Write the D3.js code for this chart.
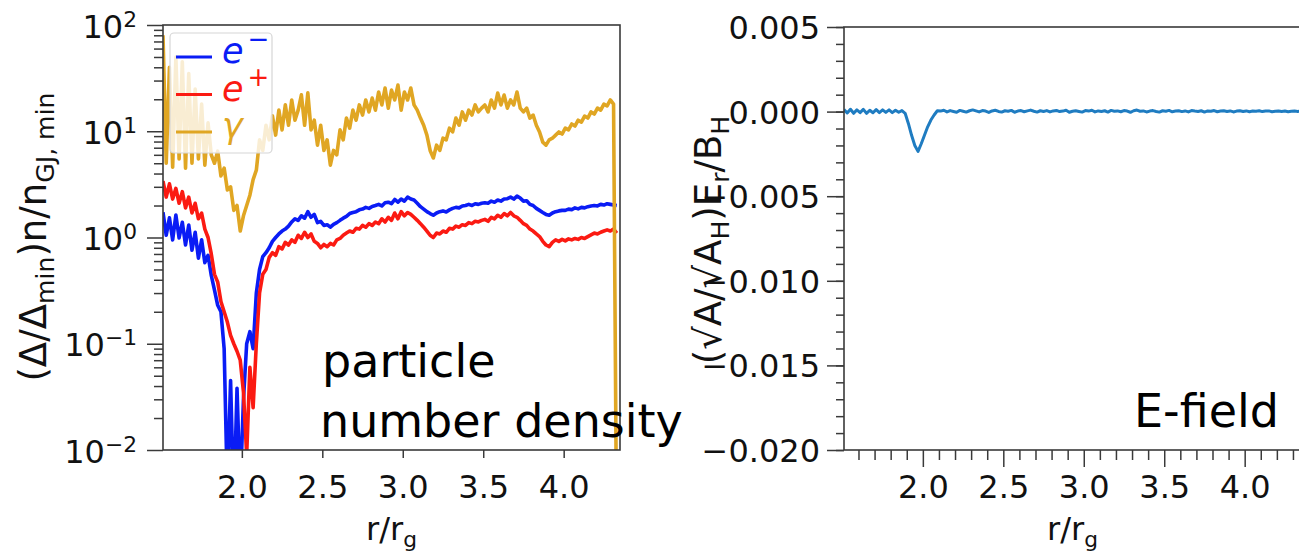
<!DOCTYPE html>
<html lang="en">
<head>
<meta charset="UTF-8">
<title>Particle number density and E-field</title>
<style>
    html, body {
        margin: 0;
        padding: 0;
        background-color: #fff;
    }
    svg {
        display: block;
        font-family: 'DejaVu Sans', sans-serif;
    }
</style>
</head>
<body>
<div id="chart"></div>
<script src="https://d3js.org/d3.v7.min.js"></script>
<script>
    // sampling grid in r/r_g shared by every series
    const rStart = 1.51;
    const rStep = 0.02;

    // (Δ/Δmin) n / nGJ,min  for e-, e+, gamma
    const electron = [
        1.73, 1.05, 1.53, 0.95, 1.63, 0.99, 1.39, 0.85, 1.31, 0.76,
        1.12, 0.64, 0.95, 0.58, 0.68, 0.44, 0.32, 0.23, 0.2, 0.09,
        0.004, 0.045, 0.003, 0.038, 0.004, 0.03, 0.1, 0.13, 0.09, 0.3,
        0.5, 0.66, 0.72, 0.8, 0.92, 1.0, 1.08, 1.15, 1.2, 1.28,
        1.4, 1.5, 1.45, 1.6, 1.52, 1.75, 1.55, 1.65, 1.38, 1.42,
        1.3, 1.32, 1.25, 1.33, 1.38, 1.45, 1.52, 1.58, 1.68, 1.72,
        1.75, 1.82, 1.85, 1.92, 1.88, 1.96, 2.0, 2.05, 1.98, 2.12,
        2.15, 2.08, 2.28, 2.15, 2.3, 2.2, 2.4, 2.3, 2.25, 2.1,
        1.95, 1.85, 1.75, 1.68, 1.62, 1.7, 1.75, 1.78, 1.74, 1.82,
        1.88, 1.92, 1.9, 1.98, 2.0, 2.05, 2.0, 2.08, 2.05, 2.1,
        2.12, 2.1, 2.2, 2.15, 2.25, 2.2, 2.3, 2.32, 2.4, 2.3,
        2.45, 2.35, 2.2, 2.22, 2.05, 2.0, 1.88, 1.8, 1.72, 1.65,
        1.62, 1.7, 1.75, 1.78, 1.8, 1.8, 1.85, 1.83, 1.9, 1.86,
        1.92, 1.9, 1.95, 1.98, 2.0, 1.98, 2.05, 2.02, 2.08, 2.05,
        2.02, 2.0
    ];
    const positron = [
        3.4, 2.4, 3.2, 2.3, 2.9, 2.1, 2.7, 1.9, 2.4, 1.7,
        2.1, 1.5, 1.7, 1.2, 1.0, 0.7, 0.45, 0.38, 0.25, 0.2,
        0.16, 0.12, 0.1, 0.085, 0.07, 0.035, 0.009, 0.06, 0.025, 0.1,
        0.3, 0.45, 0.5, 0.65, 0.72, 0.68, 0.82, 0.78, 0.9, 0.85,
        0.95, 0.9, 1.05, 0.98, 1.12, 1.0, 1.08, 0.92, 0.88, 0.8,
        0.86, 0.82, 0.88, 0.85, 0.95, 0.98, 1.05, 1.1, 1.15, 1.12,
        1.22, 1.2, 1.3, 1.25, 1.35, 1.3, 1.4, 1.35, 1.5, 1.4,
        1.55, 1.45, 1.7, 1.5, 1.75, 1.6, 1.72, 1.65, 1.55, 1.45,
        1.35, 1.25, 1.15, 1.05, 1.0, 1.1, 1.08, 1.15, 1.12, 1.22,
        1.2, 1.28, 1.25, 1.32, 1.3, 1.38, 1.35, 1.42, 1.4, 1.45,
        1.48, 1.42, 1.55, 1.5, 1.62, 1.55, 1.68, 1.6, 1.72, 1.6,
        1.55, 1.45, 1.35, 1.3, 1.2, 1.15, 1.08, 1.02, 0.92, 0.85,
        0.82, 0.9, 0.95, 0.92, 0.96, 0.93, 0.97, 0.95, 0.98, 0.96,
        1.0, 0.98, 1.02, 1.06, 1.1, 1.08, 1.12, 1.15, 1.18, 1.15,
        1.2, 1.1
    ];
    const photon = [
        80, 5.0, 40, 4.6, 50, 5.5, 45, 4.5, 35, 5.0,
        25, 5.5, 18, 4.8, 12, 6.0, 5.0, 6.5, 3.8, 4.5,
        2.8, 3.0, 1.8, 2.0, 1.15, 1.6, 2.0, 2.5, 3.5, 4.3,
        8.3, 6.6, 11.4, 8.3, 14, 9.2, 15.8, 10.3, 17.7, 11.4,
        19.7, 12.7, 15.8, 22, 11.4, 23, 10.3, 12.7, 7.4, 11.4,
        6.6, 8.3, 4.8, 6.6, 6.0, 10.3, 8.3, 13.3, 10.7, 15.8,
        12.7, 17.7, 14.2, 19.7, 15.2, 20.5, 15.8, 23.4, 17.7, 25.5,
        16.5, 24.4, 19.7, 27.2, 15.8, 23.4, 19.7, 25.5, 17.7, 15.8,
        13.3, 11.4, 9.2, 6.6, 5.6, 7.4, 6.6, 8.6, 8.3, 10.7,
        9.85, 13.3, 11.4, 15.2, 12.7, 15.8, 14.2, 17.7, 15.2, 16.5,
        17.7, 15.2, 19.7, 16.5, 22.9, 17.7, 21.9, 16.5, 19.7, 17.7,
        23.4, 16.5, 15.2, 16.5, 13.3, 14.2, 11.4, 9.85, 7.9, 7.4,
        8.3, 8.6, 9.2, 9.85, 9.4, 10.7, 10.3, 11.7, 11.2, 12.7,
        12.2, 13.9, 13.3, 15.2, 14.5, 16.5, 15.8, 18.0, 17.3, 19.7,
        18.0, 0.001
    ];

    // (√A/√AH) Er / BH
    const eField = [
        0.00012, -0.00008, 0.00014, -0.0001, 0.0001, -0.00006, 0.00013, -0.0001, 0.00008, -0.00007,
        0.00012, -0.00006, 0.0001, -0.00005, 0.0001, -0.00006, 0.00008, -0.00004, 0.00006,
        -0.0001, -0.0007, -0.0014, -0.002, -0.00235, -0.0019, -0.0014, -0.0009, -0.0005, -0.0002, 0.00005,
        0.00003, 0.00008, -0.00002, 0.00006, 0.00001, -0.00004, 0.00007, 0.00002, -0.00003, 0.00005,
        0.0001, 0.00004, -0.00002, 0.00006, 0.00003, -0.00005, 0.00004, 0.00008, 0.00001, -0.00003,
        0.00005, 0.00002, 0.00007, -0.00004, 0.00003, 0.00006, -0.00001, 0.00004, 0.00009, 0.00002,
        -0.00003, 0.00005, 0.00001, 0.00006, -0.00002, 0.00004, 0.00007, 0.0, 0.00003, 0.00008,
        -0.00004, 0.00002, 0.00005, 0.00001, -0.00003, 0.00006, 0.00003, 0.00008, -0.00002, 0.00004,
        0.00001, 0.00005, -0.00003, 0.00007, 0.00002, 0.00004, -0.00001, 0.00006, 0.00003, -0.00004,
        0.00005, 0.00009, 0.00002, 0.00004, -0.00002, 0.00003, 0.00006, 0.00001, -0.00003, 0.00005,
        0.00002, 0.00007, -0.00001, 0.00003, 0.00005, 0.0, 0.00004, -0.00002, 0.00006, 0.00003,
        0.00001, 0.00005, -0.00003, 0.00004, 0.00002, 0.00006, -0.00001, 0.00003, 0.00005, 0.00001,
        0.00004, -0.00002, 0.00003, 0.00005, 0.00001, 0.00004, -0.00001, 0.00003, 0.00002, 0.00005,
        0.0, 0.00003, 0.00004, -0.00001, 0.00002, 0.00004, 0.00001, 0.00003, -0.00001, 0.00002,
        0.00003, 0.00001, 0.00002
    ];

    const rTicks = [2.0, 2.5, 3.0, 3.5, 4.0];
    const rTickLabels = ["2.0", "2.5", "3.0", "3.5", "4.0"];
    const densityTicks = [0.01, 0.1, 1, 10, 100];
    const densityExponents = ["\u22122", "\u22121", "0", "1", "2"];
    const fieldTicks = [-0.02, -0.015, -0.01, -0.005, 0, 0.005];
    const fieldTickLabels = ["\u22120.020", "\u22120.015", "\u22120.010", "\u22120.005", "0.000", "0.005"];
    const legendNames = ["e", "e", "\u03b3"];
    const legendSups = ["\u2212", "+", ""];
    const legendColors = ["#0a1cf5", "#fb1a12", "#e0a623"];

    const width = 1299, height = 552;
    const axisColor = "#3a3a3a";
    const tickFont = 32;

    const svg = d3.select("#chart")
        .append("svg")
        .attr("width", width)
        .attr("height", height);

    svg.append("rect").attr("width", width).attr("height", height).attr("fill", "#fff");

    // helper: plain / sub / sup pieces inside one text element
    function addRich(textSel, parts, size, dy0 = 0) {
        let shift = 0;
        parts.forEach(([t, kind], j) => {
            const target = kind === "sub" ? size * 0.22 : kind === "sup" ? -size * 0.34 : 0;
            textSel.append("tspan")
                .attr("dy", target - shift + (j === 0 ? dy0 : 0))
                .attr("font-size", kind ? size * 0.68 : size)
                .text(t);
            shift = target;
        });
    }

    function styleAxis(g) {
        g.attr("font-size", null).attr("font-family", null);
        g.select(".domain").remove();
        g.selectAll(".tick line").attr("stroke", axisColor).attr("stroke-width", 1.5);
        g.selectAll(".tick text").attr("fill", "#111").attr("font-size", tickFont);
    }

    // ---------------- LEFT PANEL: particle number density ----------------
    const xL = d3.scaleLinear().domain([1.51, 4.35]).range([163, 620]);
    const yL = d3.scaleLog().domain([0.01, 100]).range([450, 25]);

    svg.append("clipPath").attr("id", "clipL")
        .append("rect").attr("x", 163).attr("y", 25).attr("width", 457).attr("height", 425);

    const lineL = d3.line()
        .x((d, i) => xL(rStart + i * rStep))
        .y(d => yL(d));

    const plotL = svg.append("g").attr("clip-path", "url(#clipL)");
    [electron, positron, photon].forEach((series, k) => {
        plotL.append("path")
            .datum(series)
            .attr("d", lineL)
            .attr("fill", "none")
            .attr("stroke", legendColors[k])
            .attr("stroke-width", 3.6)
            .attr("stroke-linejoin", "round");
    });

    // x axis
    svg.append("g")
        .attr("transform", "translate(0,450)")
        .call(d3.axisBottom(xL).tickValues(rTicks).tickFormat((d, i) => rTickLabels[i]).tickSize(8).tickPadding(17))
        .call(styleAxis);

    // y axis, minor ticks
    const logMinor = [];
    [0.01, 0.1, 1, 10].forEach(dec => d3.range(2, 10).forEach(m => logMinor.push(dec * m)));
    svg.append("g")
        .attr("transform", "translate(163,0)")
        .call(d3.axisLeft(yL).tickValues(logMinor).tickFormat("").tickSize(9))
        .call(styleAxis);

    // y axis, decades
    svg.append("g")
        .attr("transform", "translate(163,0)")
        .call(d3.axisLeft(yL).tickValues(densityTicks).tickFormat("").tickSize(16).tickPadding(10))
        .call(styleAxis)
        .selectAll(".tick text")
        .attr("dy", null)
        .each(function (d, i) {
            addRich(d3.select(this), [["10", null], [densityExponents[i], "sup"]], tickFont, 12);
        });

    svg.append("rect")
        .attr("x", 163).attr("y", 25).attr("width", 457).attr("height", 425)
        .attr("fill", "none").attr("stroke", axisColor).attr("stroke-width", 1.6);

    // legend
    const legend = svg.append("g").attr("id", "legend");
    legend.append("rect")
        .attr("x", 170).attr("y", 33).attr("width", 102).attr("height", 120).attr("rx", 4)
        .attr("fill", "#fff").attr("fill-opacity", 0.8)
        .attr("stroke", "#d6d6d6").attr("stroke-width", 1.2);
    legendNames.forEach((name, k) => {
        const ly = 57 + k * 37.5;
        legend.append("line")
            .attr("x1", 176).attr("x2", 212).attr("y1", ly).attr("y2", ly)
            .attr("stroke", legendColors[k]).attr("stroke-width", 3.2);
        const t = legend.append("text")
            .attr("x", 222).attr("y", ly + 6)
            .attr("fill", legendColors[k])
            .attr("font-size", 35);
        t.append("tspan").attr("font-style", "italic").text(name);
        if (legendSups[k]) {
            t.append("tspan").attr("dy", -15).attr("dx", 4).attr("font-size", 26).text(legendSups[k]);
        }
    });

    // axis labels
    const xlabL = svg.append("text").attr("x", 391.5).attr("y", 540)
        .attr("text-anchor", "middle").attr("fill", "#111");
    addRich(xlabL, [["r/r", null], ["g", "sub"]], 32);

    const ylabL = svg.append("text")
        .attr("transform", "translate(46,237) rotate(-90)")
        .attr("text-anchor", "middle").attr("fill", "#111");
    addRich(ylabL, [["(\u0394/\u0394", null], ["min", "sub"], [")n/n", null], ["GJ, min", "sub"]], 37);

    // ---------------- RIGHT PANEL: E-field ----------------
    const xR = d3.scaleLinear().domain([1.51, 4.35]).range([844, 1301]);
    const yR = d3.scaleLinear().domain([-0.02, 0.005]).range([450, 27]);

    svg.append("clipPath").attr("id", "clipR")
        .append("rect").attr("x", 844).attr("y", 27).attr("width", 457).attr("height", 423);

    const lineR = d3.line()
        .x((d, i) => xR(rStart + i * rStep))
        .y(d => yR(d));

    svg.append("g").attr("clip-path", "url(#clipR)")
        .append("path")
        .datum(eField)
        .attr("d", lineR)
        .attr("fill", "none")
        .attr("stroke", "#1f7cc1")
        .attr("stroke-width", 3)
        .attr("stroke-linejoin", "round");

    const rMinor = d3.range(16, 44).map(v => v / 10).filter(v => v % 0.5 !== 0);
    svg.append("g")
        .attr("transform", "translate(0,450)")
        .call(d3.axisBottom(xR).tickValues(rMinor).tickFormat("").tickSize(10))
        .call(styleAxis);
    svg.append("g")
        .attr("transform", "translate(0,450)")
        .call(d3.axisBottom(xR).tickValues(rTicks).tickFormat((d, i) => rTickLabels[i]).tickSize(17).tickPadding(8))
        .call(styleAxis);

    const fieldMinor = d3.range(-20, 6).map(v => v / 1000);
    svg.append("g")
        .attr("transform", "translate(844,0)")
        .call(d3.axisLeft(yR).tickValues(fieldMinor).tickFormat("").tickSize(8))
        .call(styleAxis);
    svg.append("g")
        .attr("transform", "translate(844,0)")
        .call(d3.axisLeft(yR).tickValues(fieldTicks).tickFormat((d, i) => fieldTickLabels[i]).tickSize(17).tickPadding(7))
        .call(styleAxis)
        .selectAll(".tick text").attr("dy", "0.36em");

    svg.append("rect")
        .attr("x", 844).attr("y", 27).attr("width", 457).attr("height", 423)
        .attr("fill", "none").attr("stroke", axisColor).attr("stroke-width", 1.6);

    const xlabR = svg.append("text").attr("x", 1072.5).attr("y", 540)
        .attr("text-anchor", "middle").attr("fill", "#111");
    addRich(xlabR, [["r/r", null], ["g", "sub"]], 32);

    const ylabR = svg.append("text")
        .attr("transform", "translate(721,240) rotate(-90)")
        .attr("text-anchor", "middle").attr("fill", "#111");
    addRich(ylabR, [["(\u221aA/\u221aA", null], ["H", "sub"], [")E", null], ["r", "sub"], ["/B", null], ["H", "sub"]], 37);

    // ---------------- annotations ----------------
    svg.append("text").attr("x", 322).attr("y", 377).attr("font-size", 46).attr("fill", "#000").text("particle");
    svg.append("text").attr("x", 320).attr("y", 437).attr("font-size", 46).attr("fill", "#000").text("number density");
    svg.append("text").attr("x", 1134).attr("y", 427).attr("font-size", 46).attr("fill", "#000").text("E-field");
</script>
</body>
</html>
